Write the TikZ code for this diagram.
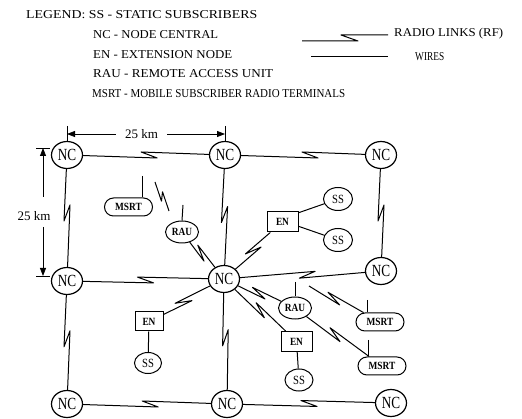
\documentclass[tikz,border=0pt]{standalone}
\usepackage{fontspec}
\usepackage{graphicx}
\setmainfont{Liberation Serif}
\newfontfamily\ncf[FakeStretch=0.78]{Liberation Serif}
\newfontfamily\lblf[FakeStretch=0.85]{Liberation Serif}
\usetikzlibrary{calc,shapes.geometric,shapes.misc,arrows.meta}
\newcommand\rfA{8pt}
\newcommand\rfP{3pt}
% radio link: first segment on right-hand side of travel
\newcommand\rflink[3]{\draw[wire] (#1) -- ($(#1)!#3!(#2)!\rfA!(#2)!\rfP!-90:(#2)$) -- ($(#1)!#3!(#2)!-\rfA!(#2)!\rfP!90:(#2)$) -- (#2);}
% mirrored radio link
\newcommand\rflinkm[3]{\draw[wire] (#1) -- ($(#1)!#3!(#2)!\rfA!(#2)!\rfP!90:(#2)$) -- ($(#1)!#3!(#2)!-\rfA!(#2)!\rfP!-90:(#2)$) -- (#2);}
\tikzset{
  wire/.style={line width=1pt, line join=round},
  nc/.style={ellipse, draw, line width=1.2pt, minimum width=31pt, minimum height=27pt, inner sep=0pt, font=\ncf\fontsize{17pt}{17pt}\selectfont},
  ssn/.style={ellipse, draw, line width=1pt, minimum width=29pt, minimum height=23pt, inner sep=0pt, font=\lblf\fontsize{12.5pt}{12.5pt}\selectfont},
  raun/.style={ellipse, draw, line width=1pt, minimum width=33pt, minimum height=22pt, inner sep=0pt, font=\lblf\bfseries\fontsize{11pt}{11pt}\selectfont},
  msrtn/.style={rounded rectangle, draw, line width=1pt, minimum width=48pt, minimum height=18pt, inner sep=0pt, font=\lblf\bfseries\fontsize{11pt}{11pt}\selectfont},
  enn/.style={rectangle, draw, line width=1pt, minimum width=31pt, minimum height=20pt, inner sep=0pt, font=\lblf\bfseries\fontsize{11pt}{11pt}\selectfont},
  dimline/.style={line width=0.8pt, -{Triangle[length=8pt,width=6pt]}},
  tick/.style={line width=0.8pt},
  lgd/.style={anchor=west, inner sep=0pt},
  dimtext/.style={inner sep=0pt, font=\fontsize{13pt}{13pt}\selectfont},
}
\begin{document}
\begin{tikzpicture}[x=1pt, y=-1pt]
\useasboundingbox (0,0) rectangle (522,419);
% ---------- legend ----------
\node[lgd] (l1) at (26,15) {\resizebox{231pt}{8pt}{LEGEND: SS - STATIC SUBSCRIBERS}};
\node[lgd] (l2) at (93,35) {\resizebox{125pt}{8pt}{NC - NODE CENTRAL}};
\node[lgd] (l3) at (93,55) {\resizebox{139pt}{8pt}{EN - EXTENSION NODE}};
\node[lgd] (l4) at (93,74) {\resizebox{180pt}{8pt}{RAU - REMOTE ACCESS UNIT}};
\node[lgd] (l5) at (92,94) {\resizebox{253pt}{8pt}{MSRT - MOBILE SUBSCRIBER RADIO TERMINALS}};
\node[lgd] (l6) at (394,34) {\resizebox{109pt}{8.3pt}{RADIO LINKS (RF)}};
\node[lgd] (l7) at (415,57) {\resizebox{29pt}{8pt}{WIRES}};
\coordinate (lr1) at (302,41);
\coordinate (lrA) at (358,41);
\coordinate (lrB) at (341,35);
\coordinate (lr2) at (388,35);
\draw[wire] (lr1) -- (lrA) -- (lrB) -- (lr2);
\coordinate (lw1) at (311,57);
\coordinate (lw2) at (388,57);
\draw[wire] (lw1) -- (lw2);
% ---------- NC nodes ----------
\node[nc] (tl) at (67,155) {NC};
\node[nc] (tm) at (225,155) {NC};
\node[nc] (tr) at (381,155) {NC};
\node[nc] (ml) at (67,281) {NC};
\node[nc] (c)  at (224,279) {NC};
\node[nc] (mr) at (381,271) {NC};
\node[nc] (bl) at (67,404) {NC};
\node[nc] (bm) at (227,404) {NC};
\node[nc] (br) at (391,403) {NC};
% ---------- other nodes ----------
\node[msrtn] (m1) at (128.5,207) {MSRT};
\node[raun] (r1) at (182,232) {RAU};
\node[enn] (en1) at (282.5,222) {EN};
\node[ssn] (ss1) at (338,199) {SS};
\node[ssn] (ss2) at (338,240) {SS};
\node[raun] (r2) at (295,308) {RAU};
\node[msrtn] (m2) at (380,322) {MSRT};
\node[msrtn] (m3) at (382,366) {MSRT};
\node[enn] (en2) at (296.5,341.5) {EN};
\node[ssn, minimum width=28pt, minimum height=22pt] (ss3) at (299,380) {SS};
\node[enn, minimum width=28pt, minimum height=19pt] (en3) at (149,321.5) {EN};
\node[ssn, minimum width=27pt, minimum height=21pt] (ss4) at (148,363) {SS};
% ---------- dimensions ----------
\coordinate (h1) at (67,134);
\coordinate (h2) at (225,134);
\coordinate (h1t) at (67,126);
\coordinate (h1b) at (67,141);
\coordinate (h2t) at (225,126);
\coordinate (h2b) at (225,141);
\draw[tick] (h1t) -- (h1b);
\draw[tick] (h2t) -- (h2b);
\node[dimtext, inner xsep=9pt] (ht) at (141.5,134) {25 km};
\draw[dimline] (ht.west) -- (h1);
\draw[dimline] (ht.east) -- (h2);
\coordinate (v1) at (43,148);
\coordinate (v2) at (43,276);
\coordinate (v1l) at (36,148);
\coordinate (v1r) at (50,148);
\coordinate (v2l) at (36,276);
\coordinate (v2r) at (50,276);
\draw[tick] (v1l) -- (v1r);
\draw[tick] (v2l) -- (v2r);
\node[dimtext] (vt) at (34,216) {25 km};
\coordinate (vt1) at (43,197);
\coordinate (vt2) at (43,227);
\draw[dimline] (vt1) -- (v1);
\draw[dimline] (vt2) -- (v2);
% ---------- grid radio links ----------
\rflink{tl}{tm}{0.52}
\rflink{tm}{tr}{0.545}
\rflink{tl}{ml}{0.46}
\rflink{tm}{c}{0.48}
\rflink{tr}{mr}{0.5}
\rflink{ml}{c}{0.5}
\rflinkm{c}{mr}{0.53}
\rflink{bl}{bm}{0.52}
\rflink{ml}{bl}{0.47}
\rflink{c}{bm}{0.47}
\rflink{bm}{br}{0.5}
% ---------- other radio links ----------
\rflink{r1}{c}{0.45}
\rflink{en1}{c}{0.5}
\rflink{c}{r2}{0.49}
\rflink{c}{en2}{0.5}
\rflink{c}{en3}{0.54}
\rflink{r2}{m3}{0.46}
\coordinate (f2a) at (309,286);
\rflink{f2a}{m2}{0.35}
\coordinate (f1a) at (155,182);
\coordinate (f1b) at (169,211);
{\renewcommand\rfA{4pt}\renewcommand\rfP{2.5pt}\rflink{f1a}{f1b}{0.5}}
% ---------- antennas ----------
\coordinate (m1a) at (142,176);
\draw[wire] (m1a) -- (m1a |- m1.north);
\coordinate (r1a) at (183,205);
\draw[wire] (r1a) -- (r1.north);
\coordinate (r2a) at (295,282);
\draw[wire] (r2a) -- (r2.north);
\coordinate (m2a) at (367,300);
\draw[wire] (m2a) -- (m2a |- m2.north);
\coordinate (m3a) at (368,340);
\draw[wire] (m3a) -- (m3a |- m3.north);
% ---------- wires ----------
\draw[wire] (en1.30) -- (ss1);
\draw[wire] (en1.-15) -- (ss2);
\draw[wire] (en2) -- (ss3);
\draw[wire] (en3) -- (ss4);
\end{tikzpicture}
\end{document}
